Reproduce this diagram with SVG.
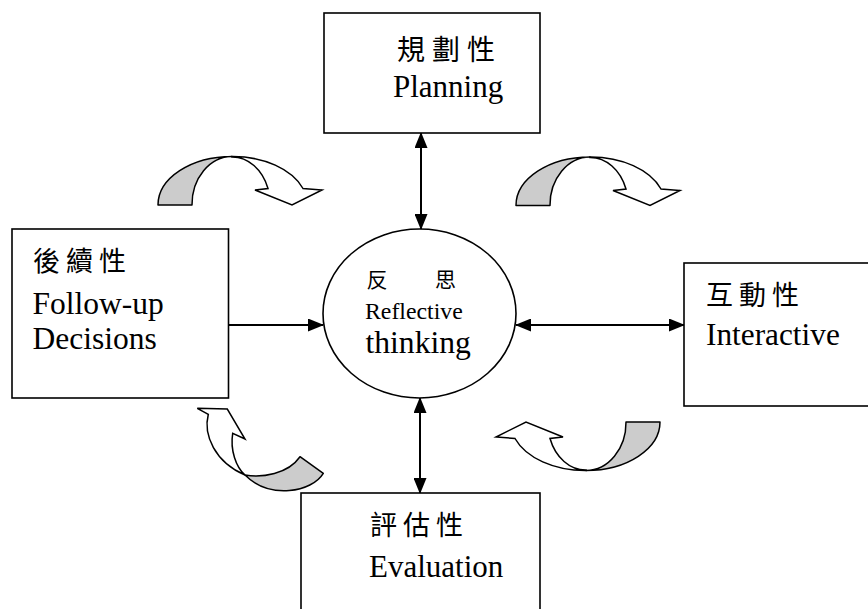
<svg xmlns="http://www.w3.org/2000/svg" width="868" height="609" viewBox="0 0 868 609">
  <style>
    .box { fill: #ffffff; stroke: #000000; stroke-width: 1.6; }
    .hub { fill: #ffffff; stroke: #000000; stroke-width: 1.6; }
    .en { font-family: "Liberation Serif", "Times New Roman", serif; fill: #000000; }
    .zh { font-family: "Noto Sans CJK TC", "Noto Sans CJK SC", sans-serif; fill: #000000; }
    .link { stroke: #000000; stroke-width: 2; fill: none; }
    .band { fill: #cccccc; stroke: #000000; stroke-width: 1.5; stroke-linejoin: round; }
    .ribbon { fill: #ffffff; stroke: #000000; stroke-width: 1.5; stroke-linejoin: miter; }
  </style>
  <defs>
    <marker id="tip" viewBox="0 0 16 13" refX="15" refY="6.5" markerWidth="16" markerHeight="13" markerUnits="userSpaceOnUse" orient="auto-start-reverse">
      <path d="M0,0 L16,6.5 L0,13 Z" fill="#000000"/>
    </marker>
    <!-- curved cycle arrow: shaded back band plus white front ribbon with head -->
    <g id="curl">
      <path class="band" d="M158,205 A74,48.5 0 0 1 232,156.5 A40,48 0 0 0 192,205 Z"/>
      <path class="ribbon" d="M232,156.5 A75,49 0 0 1 303,188.5 L322,190 L292,205 L255,190 L268,188.5 A38,48 0 0 0 232,157 Z"/>
    </g>
  </defs>

  <rect width="868" height="609" fill="#ffffff"/>

  <!-- connectors -->
  <g id="connectors">
    <line class="link" x1="421" y1="133" x2="421" y2="229" marker-start="url(#tip)" marker-end="url(#tip)"/>
    <line class="link" x1="228" y1="325" x2="323" y2="325" marker-end="url(#tip)"/>
    <line class="link" x1="516" y1="325" x2="684" y2="325" marker-start="url(#tip)" marker-end="url(#tip)"/>
    <line class="link" x1="420" y1="398" x2="420" y2="493" marker-start="url(#tip)" marker-end="url(#tip)"/>
  </g>

  <!-- cycle arrows between the outer nodes -->
  <g id="cycle-arrows">
    <use href="#curl"/>
    <use href="#curl" transform="translate(358,0.5)"/>
    <use href="#curl" transform="rotate(180,409,313.5)"/>
    <g id="curl-lower-left">
      <path class="band" d="M245,475 C262,478 288,474 300,456.7 L323.3,473.3 C312,492 270,500 245,475 Z"/>
      <path class="ribbon" d="M208.3,414.3 C203,435 215,462 245,475 C236,467 230,450 232.7,433.3 L245,439 L227.3,409 L197.3,408.3 Z"/>
    </g>
  </g>

  <!-- planning -->
  <g id="node-planning">
    <rect class="box" x="324" y="13" width="216" height="120"/>
    <text class="zh" x="397" y="60" font-size="28" letter-spacing="7">規劃性</text>
    <text class="en" x="393" y="97" font-size="31">Planning</text>
  </g>

  <!-- follow-up decisions -->
  <g id="node-followup">
    <rect class="box" x="12" y="229" width="216.5" height="169"/>
    <text class="zh" x="33" y="271" font-size="27" letter-spacing="6">後續性</text>
    <text class="en" x="32.5" y="314" font-size="31.5">Follow-up</text>
    <text class="en" x="32.5" y="348.5" font-size="31.5">Decisions</text>
  </g>

  <!-- interactive -->
  <g id="node-interactive">
    <rect class="box" x="684" y="263" width="200" height="143"/>
    <text class="zh" x="706" y="305" font-size="27" letter-spacing="6">互動性</text>
    <text class="en" x="706" y="345" font-size="31.3">Interactive</text>
  </g>

  <!-- evaluation -->
  <g id="node-evaluation">
    <rect class="box" x="301" y="493" width="239" height="130"/>
    <text class="zh" x="370" y="535" font-size="27" letter-spacing="6">評估性</text>
    <text class="en" x="369" y="576.5" font-size="31">Evaluation</text>
  </g>

  <!-- reflective thinking hub -->
  <g id="node-reflective">
    <ellipse class="hub" cx="419.5" cy="313.5" rx="96.5" ry="84.5"/>
    <text class="zh" x="366.5" y="286.5" font-size="21">反</text>
    <text class="zh" x="435" y="286.5" font-size="21">思</text>
    <text class="en" x="365" y="318.5" font-size="23.8">Reflective</text>
    <text class="en" x="365.5" y="352.5" font-size="31.6">thinking</text>
  </g>
</svg>
